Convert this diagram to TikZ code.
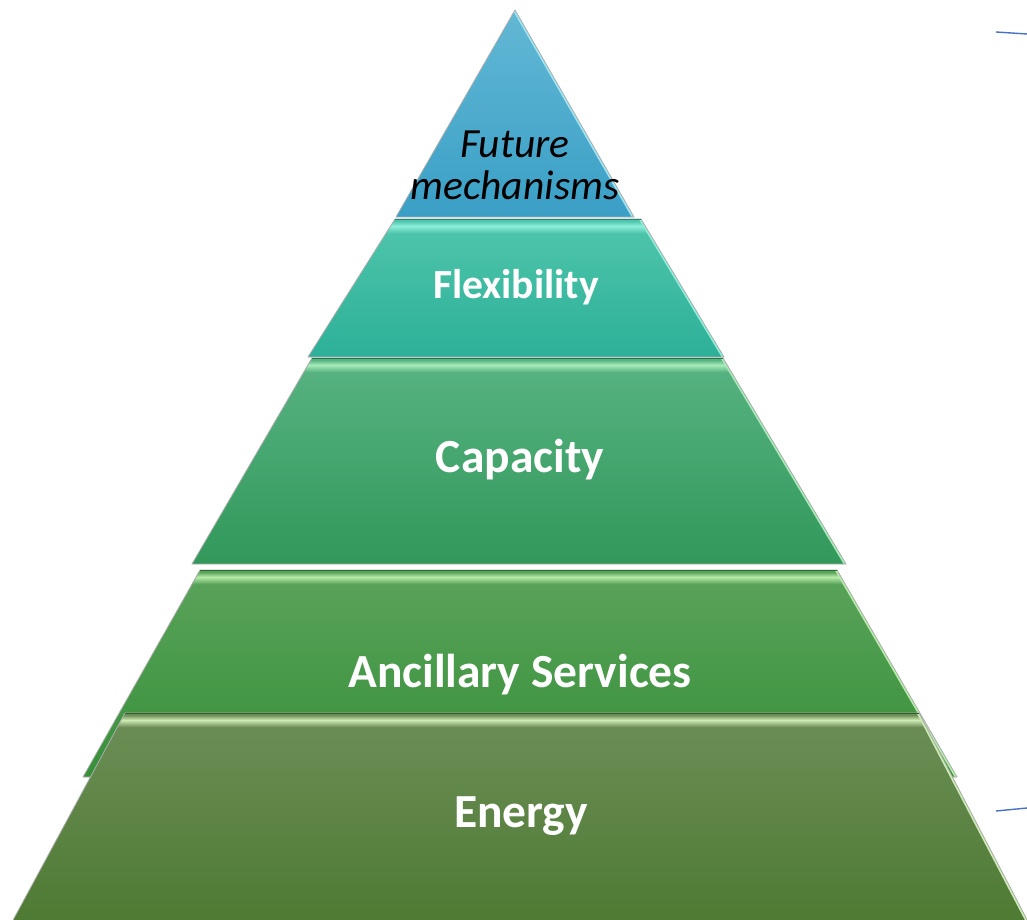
\documentclass[tikz,border=0pt]{standalone}
\usepackage{fontspec}
\setmainfont{Carlito}

% tier colours: top of gradient, bottom of gradient, bevel glow
\definecolor{apexTop}{HTML}{62B8D4}
\definecolor{apexBot}{HTML}{3A9FC6}
\definecolor{apexGlow}{HTML}{9FE6F4}
\definecolor{flexTop}{HTML}{4FC6AC}
\definecolor{flexBot}{HTML}{2DB098}
\definecolor{flexGlow}{HTML}{8EEEDA}
\definecolor{capTop}{HTML}{58B382}
\definecolor{capBot}{HTML}{31985A}
\definecolor{capGlow}{HTML}{A6EBB8}
\definecolor{ancTop}{HTML}{5AA35B}
\definecolor{ancBot}{HTML}{379039}
\definecolor{ancGlow}{HTML}{B6EBA8}
\definecolor{enTop}{HTML}{6C8E57}
\definecolor{enBot}{HTML}{4C7931}
\definecolor{enGlow}{HTML}{CDEBB5}
\definecolor{linkblue}{HTML}{4472C4}

\tikzset{
  tieroutline/.style={draw=black!32, line width=0.8pt, line join=round},
  edgeglow/.style={line width=2.4pt, line cap=round},
  tierlabel/.style={text=white, anchor=base, inner sep=0pt,
    font=\bfseries\fontsize{47.5}{50}\selectfont},
  bracketline/.style={draw=linkblue, line width=1.4pt},
}

% #1 top y, #2 bottom y, #3 top-left x, #4 top-right x,
% #5 bottom-left x, #6 bottom-right x, #7 top colour, #8 bottom colour, #9 glow
\newcommand\pyrtier[9]{%
  \begin{scope}
    \clip (#3,#1) -- (#4,#1) -- (#6,#2) -- (#5,#2) -- cycle;
    \shade[top color=#7, bottom color=#8] (0,#1) rectangle (1027,#2);
    \shade[top color=#7, bottom color=#9] (0,#1+2) rectangle (1027,#1+7);
    \shade[top color=#9, bottom color=#7] (0,#1+7) rectangle (1027,#1+14);
    \draw[#9, edgeglow] (#4-1,#1) -- (#6-1,#2);
  \end{scope}
  \draw[tieroutline] (#3,#1) -- (#4,#1) -- (#6,#2) -- (#5,#2) -- cycle;
  \draw[#8!75!black, line width=1pt] (#3,#1) -- (#4,#1);
}

\begin{document}
\begin{tikzpicture}[x=1pt, y=-1pt]
  \useasboundingbox (0,0) rectangle (1027,920);
  \begin{scope}
    \clip (0,0) rectangle (1027,920);

    % apex
    \begin{scope}
      \clip (515,10) -- (634,217) -- (396,217) -- cycle;
      \shade[top color=apexTop, bottom color=apexBot] (0,10) rectangle (1027,217);
      \draw[apexGlow, edgeglow] (514,10) -- (633,217);
    \end{scope}
    \draw[tieroutline] (515,10) -- (634,217) -- (396,217) -- cycle;

    % stacked tiers, bottom-most last so it overlaps the one above
    \pyrtier{219}{357}{395}{641}{308}{724}{flexTop}{flexBot}{flexGlow}
    \pyrtier{358}{564}{312}{723}{192}{846}{capTop}{capBot}{capGlow}
    \pyrtier{570}{777}{200}{837}{83}{957}{ancTop}{ancBot}{ancGlow}
    \pyrtier{713}{935}{125}{919}{5}{1035}{enTop}{enBot}{enGlow}
  \end{scope}

  % labels
  \node[anchor=base, inner sep=0pt, align=center,
        font=\itshape\fontsize{41.5}{43}\selectfont] (future) at (515,200)
        {Future\\mechanisms};
  \node[tierlabel, font=\bfseries\fontsize{41.5}{44}\selectfont] (flex) at (516,298) {Flexibility};
  \node[tierlabel] (cap) at (520,472) {Capacity};
  \node[tierlabel] (anc) at (520,687) {Ancillary Services};
  \node[tierlabel] (energy) at (521,827) {Energy};

  % ends of the bracket at the right margin
  \coordinate (bt0) at (996,32);
  \coordinate (bt1) at (1027,34);
  \coordinate (bb0) at (996,811);
  \coordinate (bb1) at (1027,808);
  \draw[bracketline] (bt0) -- (bt1);
  \draw[bracketline] (bb0) -- (bb1);
\end{tikzpicture}
\end{document}
